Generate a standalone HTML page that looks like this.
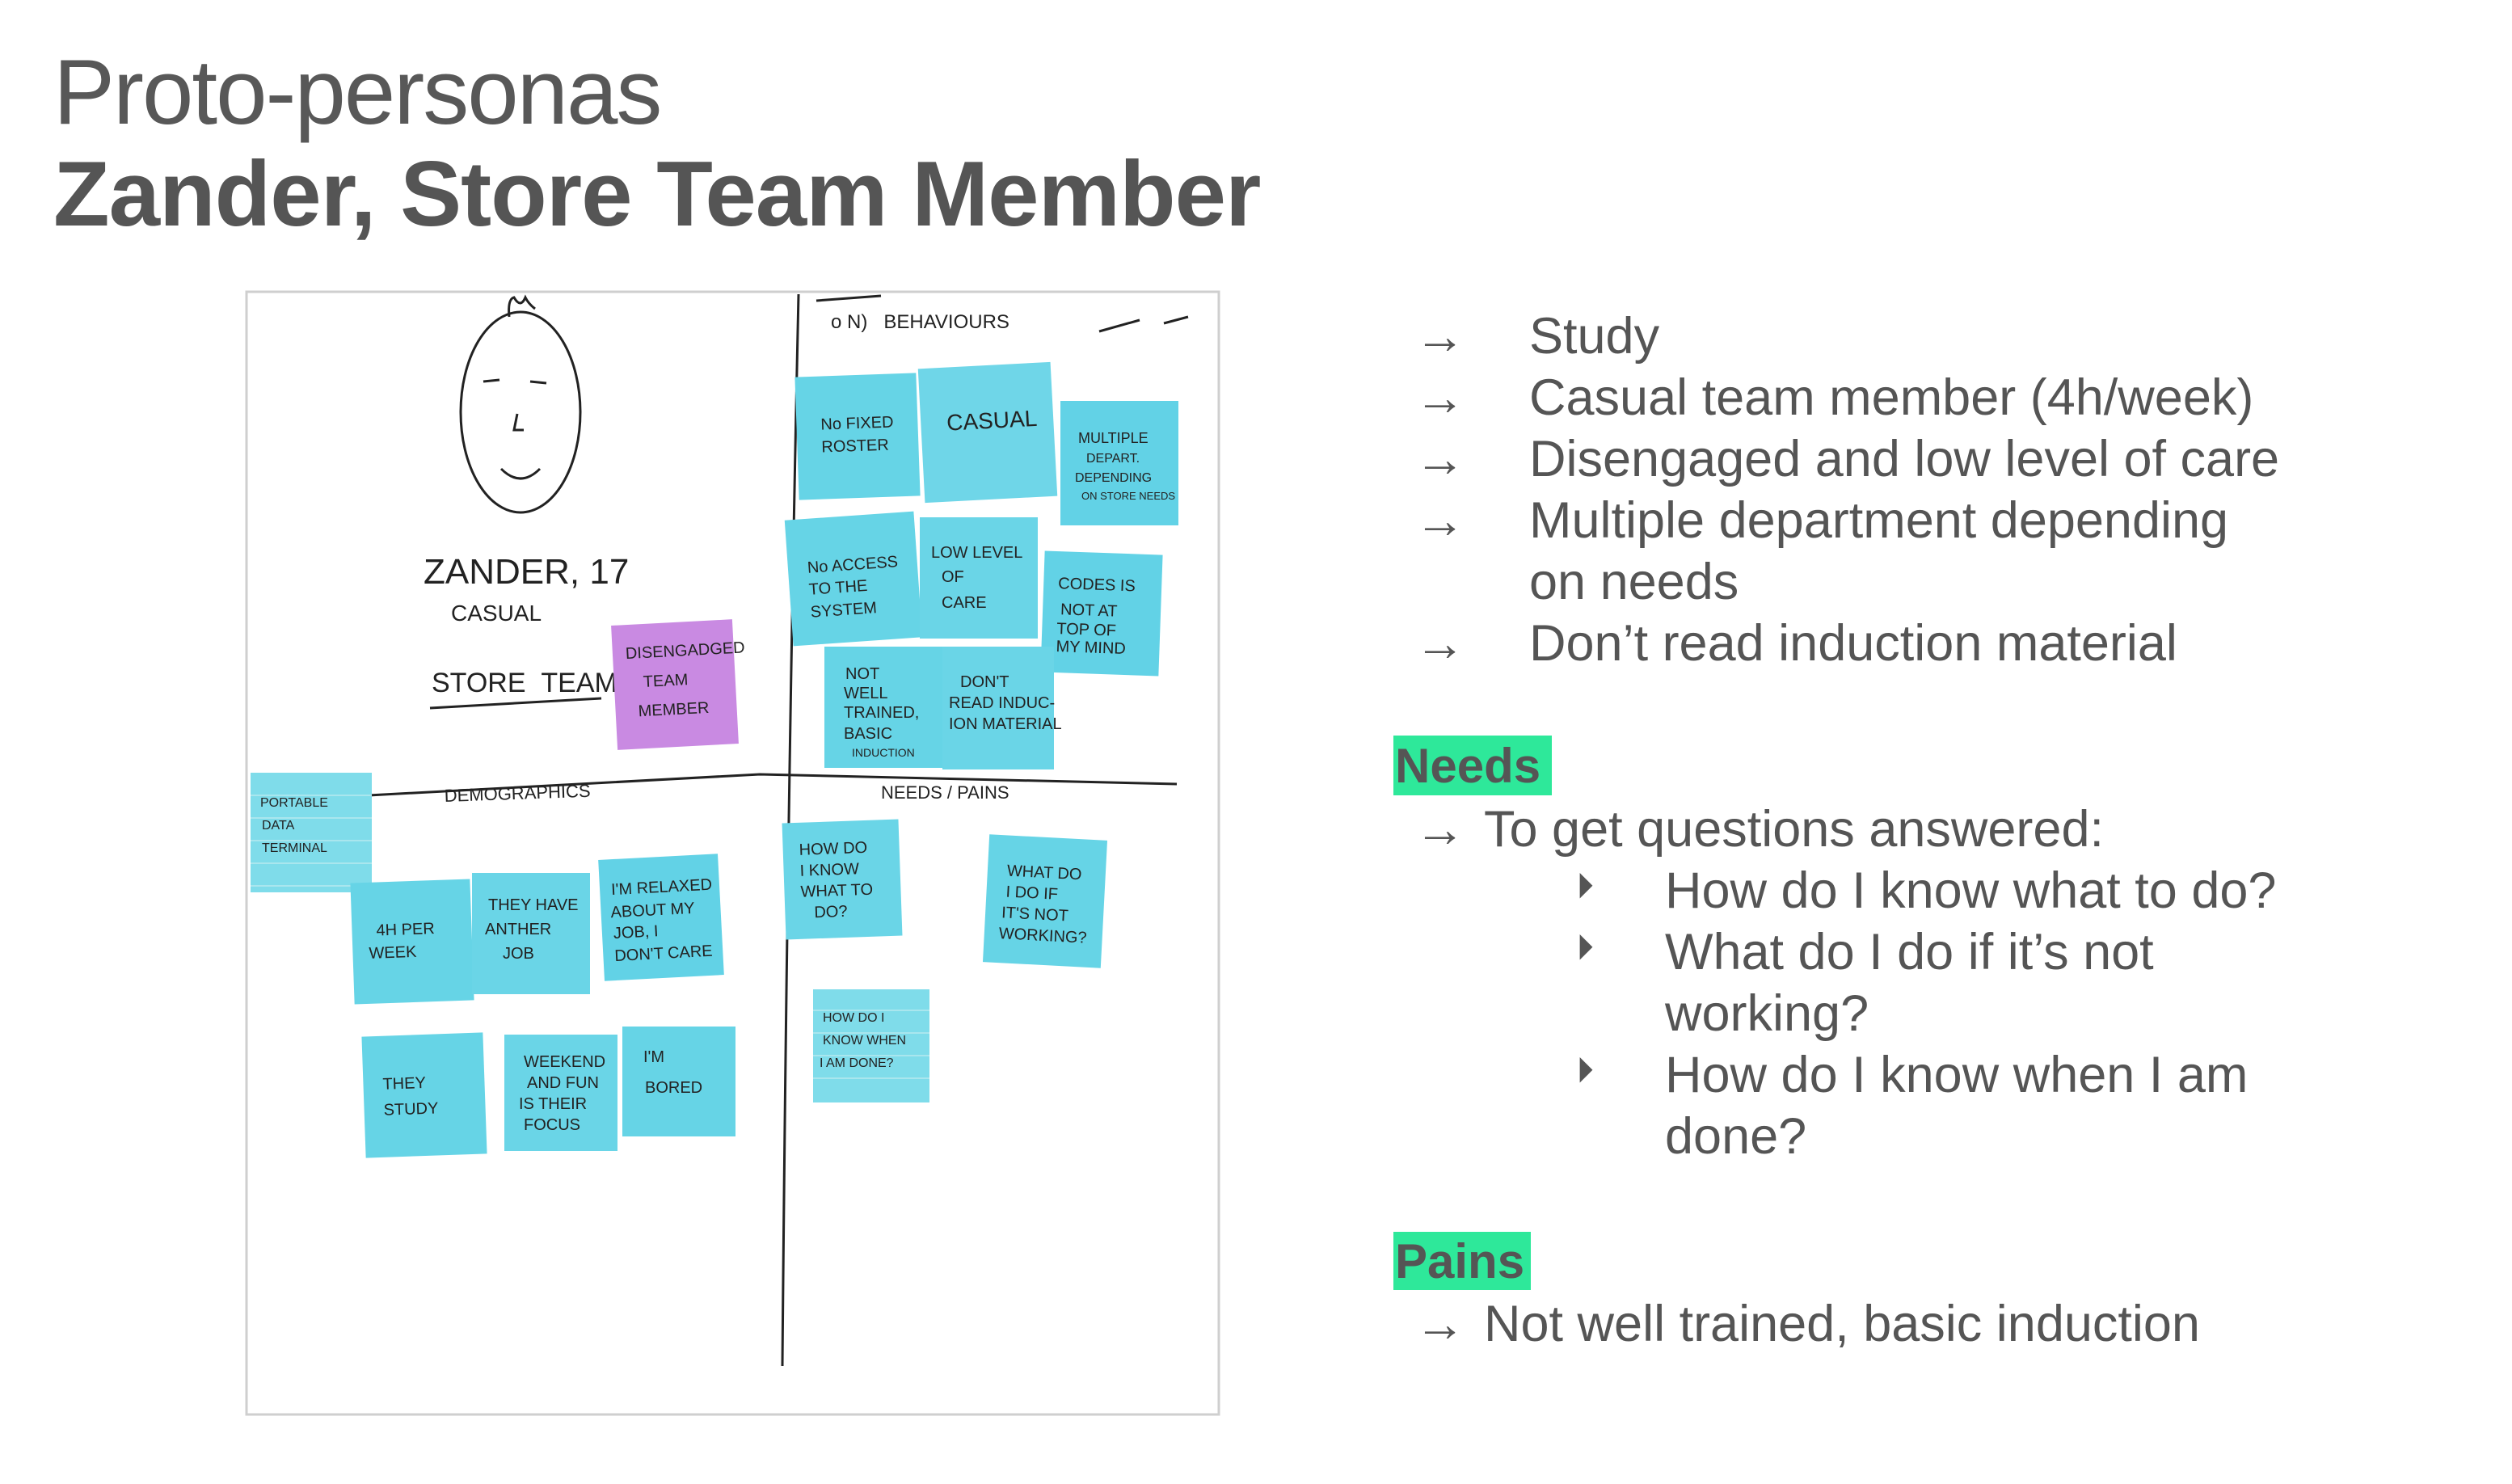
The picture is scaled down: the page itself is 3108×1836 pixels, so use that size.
<!DOCTYPE html>
<html><head><meta charset="utf-8"><style>
html,body{margin:0;padding:0;background:#fff;}
body{width:3108px;height:1836px;position:relative;overflow:hidden;font-family:"Liberation Sans",sans-serif;color:#555;}
.t{position:absolute;white-space:nowrap;line-height:1;}
.r{font-size:63px;}
.hl{position:absolute;background:#2ee89a;}
</style></head><body>
<div class="t" style="left:66px;top:58px;font-size:114px;color:#585858;letter-spacing:-2px;">Proto-personas</div>
<div class="t" style="left:66px;top:184px;font-size:114px;font-weight:bold;color:#555;letter-spacing:-1px;">Zander, Store Team Member</div>

<svg style="position:absolute;left:0;top:0" width="3108" height="1836" viewBox="0 0 3108 1836">
<rect x="305" y="361" width="1203" height="1389" fill="#fff" stroke="#cfcfcf" stroke-width="3"/>
<g stroke="#222" fill="none" stroke-width="3">
<path d="M988 364 Q974 1000 968 1690"/>
<path d="M456 984 L940 958 L1456 970"/>
<ellipse cx="644" cy="510" rx="74" ry="124"/>
<path d="M630 392 q-2 -22 6 -24 q8 14 14 0 q4 8 12 14"/>
<path d="M598 472 l20 -2 M656 472 l20 2 M640 512 l-4 20 l12 0 M620 580 q24 24 48 0"/>
<path d="M532 876 L744 864"/>
<path d="M1360 410 L1410 396 M1440 400 L1470 392 M1010 372 L1090 366"/>
</g>
<g font-family="Liberation Sans,sans-serif" fill="#222">
<text x="524" y="722" font-size="44">ZANDER, 17</text>
<text x="558" y="768" font-size="28">CASUAL</text>
<text x="534" y="856" font-size="34">STORE&#160;&#160;TEAM</text>
<text x="550" y="992" font-size="22" transform="rotate(-2 550 992)">DEMOGRAPHICS</text>
<text x="1090" y="988" font-size="22">NEEDS&#160;/&#160;PAINS</text>
<text x="1028" y="406" font-size="24">o N)&#160;&#160;&#160;BEHAVIOURS</text>
</g>
<g font-family="Liberation Sans,sans-serif" font-size="20" fill="#222">
<g transform="rotate(-2 1061 540)"><rect x="986" y="464" width="150" height="152" fill="#66d4e6"/><text x="1016" y="530">No FIXED</text><text x="1016" y="558">ROSTER</text></g>
<g transform="rotate(-3 1222 535)"><rect x="1140" y="452" width="164" height="166" fill="#6fd6e8"/><text x="1172" y="530" font-size="28">CASUAL</text></g>
<g><rect x="1312" y="496" width="146" height="154" fill="#62d2e6"/><text x="1334" y="548" font-size="18">MULTIPLE</text><text x="1344" y="572" font-size="16">DEPART.</text><text x="1330" y="596" font-size="16">DEPENDING</text><text x="1338" y="618" font-size="13">ON STORE NEEDS</text></g>
<g transform="rotate(-4 1056 716)"><rect x="976" y="638" width="160" height="156" fill="#66d4e6"/><text x="1000" y="705">No ACCESS</text><text x="1000" y="732">TO THE</text><text x="1000" y="760">SYSTEM</text></g>
<g><rect x="1138" y="640" width="146" height="150" fill="#6ad5e7"/><text x="1152" y="690">LOW LEVEL</text><text x="1165" y="720">OF</text><text x="1165" y="752">CARE</text></g>
<g transform="rotate(2 1363 759)"><rect x="1290" y="684" width="146" height="150" fill="#62d2e6"/><text x="1308" y="730">CODES IS</text><text x="1312" y="762">NOT AT</text><text x="1308" y="786">TOP OF</text><text x="1308" y="808">MY MIND</text></g>
<g><rect x="1020" y="800" width="146" height="150" fill="#66d4e6"/><text x="1046" y="840">NOT</text><text x="1044" y="864">WELL</text><text x="1044" y="888">TRAINED,</text><text x="1044" y="914">BASIC</text><text x="1054" y="936" font-size="14">INDUCTION</text></g>
<g><rect x="1166" y="800" width="138" height="152" fill="#6ad5e7"/><text x="1188" y="850">DON'T</text><text x="1174" y="876">READ INDUC-</text><text x="1174" y="902">ION MATERIAL</text></g>
<g transform="rotate(-3 835 847)"><rect x="760" y="770" width="150" height="154" fill="#c98ae2"/><text x="776" y="812">DISENGADGED</text><text x="796" y="848">TEAM</text><text x="788" y="884">MEMBER</text></g>
<g><rect x="310" y="956" width="150" height="148" fill="#7fdcea"/><path d="M310 984 h150 M310 1012 h150 M310 1040 h150 M310 1068 h150 M310 1096 h150" stroke="#a9e6ee" stroke-width="2"/><text x="322" y="998" font-size="16">PORTABLE</text><text x="324" y="1026" font-size="16">DATA</text><text x="324" y="1054" font-size="16">TERMINAL</text></g>
<g transform="rotate(-2 510 1165)"><rect x="436" y="1090" width="148" height="150" fill="#66d4e6"/><text x="466" y="1156">4H PER</text><text x="456" y="1184">WEEK</text></g>
<g><rect x="584" y="1080" width="146" height="150" fill="#6ad5e7"/><text x="604" y="1126">THEY HAVE</text><text x="600" y="1156">ANTHER</text><text x="622" y="1186">JOB</text></g>
<g transform="rotate(-3 818 1135)"><rect x="744" y="1060" width="148" height="150" fill="#62d2e6"/><text x="758" y="1104">I'M RELAXED</text><text x="756" y="1132">ABOUT MY</text><text x="758" y="1158">JOB, I</text><text x="758" y="1186">DON'T CARE</text></g>
<g transform="rotate(-2 525 1355)"><rect x="450" y="1280" width="150" height="150" fill="#66d4e6"/><text x="474" y="1346">THEY</text><text x="474" y="1378">STUDY</text></g>
<g><rect x="624" y="1280" width="140" height="144" fill="#6ad5e7"/><text x="648" y="1320">WEEKEND</text><text x="652" y="1346">AND FUN</text><text x="642" y="1372">IS THEIR</text><text x="648" y="1398">FOCUS</text></g>
<g><rect x="770" y="1270" width="140" height="136" fill="#66d4e6"/><text x="796" y="1314">I'M</text><text x="798" y="1352">BORED</text></g>
<g transform="rotate(-2 1042 1088)"><rect x="970" y="1016" width="144" height="144" fill="#6ad5e7"/><text x="990" y="1056">HOW DO</text><text x="990" y="1082">I KNOW</text><text x="990" y="1108">WHAT TO</text><text x="1006" y="1134">DO?</text></g>
<g transform="rotate(3 1293 1115)"><rect x="1220" y="1036" width="146" height="158" fill="#66d4e6"/><text x="1244" y="1086">WHAT DO</text><text x="1244" y="1112">I DO IF</text><text x="1240" y="1138">IT'S NOT</text><text x="1238" y="1164">WORKING?</text></g>
<g><rect x="1006" y="1224" width="144" height="140" fill="#7fdcea"/><path d="M1006 1250 h144 M1006 1278 h144 M1006 1306 h144 M1006 1334 h144" stroke="#a9e6ee" stroke-width="2"/><text x="1018" y="1264" font-size="16">HOW DO I</text><text x="1018" y="1292" font-size="16">KNOW WHEN</text><text x="1014" y="1320" font-size="16">I AM DONE?</text></g>
</g>
</svg>

<div class="t r" style="left:1750px;top:385px;">→</div><div class="t r" style="left:1892px;top:385px;">Study</div>
<div class="t r" style="left:1750px;top:461px;">→</div><div class="t r" style="left:1892px;top:461px;">Casual team member (4h/week)</div>
<div class="t r" style="left:1750px;top:537px;">→</div><div class="t r" style="left:1892px;top:537px;">Disengaged and low level of care</div>
<div class="t r" style="left:1750px;top:613px;">→</div><div class="t r" style="left:1892px;top:613px;">Multiple department depending</div>
<div class="t r" style="left:1892px;top:689px;">on needs</div>
<div class="t r" style="left:1750px;top:765px;">→</div><div class="t r" style="left:1892px;top:765px;">Don’t read induction material</div>

<div class="hl" style="left:1724px;top:910px;width:196px;height:74px;"></div>
<div class="t" style="left:1726px;top:918px;font-size:60px;font-weight:bold;">Needs</div>
<div class="t r" style="left:1750px;top:995px;">→</div><div class="t r" style="left:1836px;top:995px;">To get questions answered:</div>
<div class="t" style="left:1950px;top:1075px;font-size:44px;">⏵</div><div class="t r" style="left:2060px;top:1071px;">How do I know what to do?</div>
<div class="t" style="left:1950px;top:1151px;font-size:44px;">⏵</div><div class="t r" style="left:2060px;top:1147px;">What do I do if it’s not</div>
<div class="t r" style="left:2060px;top:1223px;">working?</div>
<div class="t" style="left:1950px;top:1303px;font-size:44px;">⏵</div><div class="t r" style="left:2060px;top:1299px;">How do I know when I am</div>
<div class="t r" style="left:2060px;top:1375px;">done?</div>

<div class="hl" style="left:1724px;top:1524px;width:170px;height:72px;"></div>
<div class="t" style="left:1726px;top:1531px;font-size:60px;font-weight:bold;">Pains</div>
<div class="t r" style="left:1750px;top:1607px;">→</div><div class="t r" style="left:1836px;top:1607px;">Not well trained, basic induction</div>
</body></html>
